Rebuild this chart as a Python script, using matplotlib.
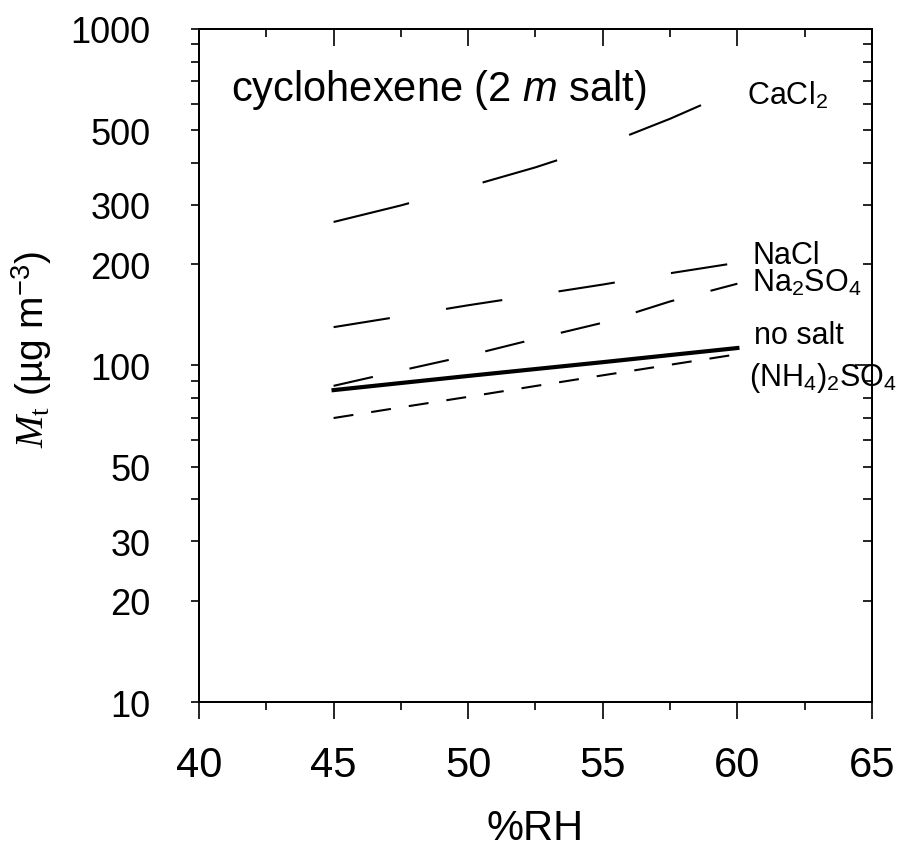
import numpy as np
import matplotlib
matplotlib.use("Agg")
import matplotlib.pyplot as plt
from matplotlib.ticker import FixedLocator, NullFormatter, FixedFormatter

plt.rcParams['font.family'] = ['Liberation Sans', 'DejaVu Sans']
plt.rcParams['mathtext.fontset'] = 'custom'
plt.rcParams['mathtext.rm'] = 'Liberation Sans'
plt.rcParams['mathtext.it'] = 'Liberation Serif:italic'
plt.rcParams['mathtext.sf'] = 'Liberation Sans:italic'
plt.rcParams['mathtext.cal'] = 'Liberation Serif'
plt.rcParams['lines.scale_dashes'] = False

# %RH sample points and total organic mass (ug m-3)
rh = [45, 47.5, 50, 52.5, 55, 57.5, 60]
cacl2 = [267, 299, 340, 388, 451, 541, 662]
nacl = [130, 140, 151, 162, 174, 188, 202]
na2so4 = [87, 96.6, 107, 120, 134, 155, 175]
no_salt = [84.5, 88.7, 93.1, 97.6, 102.3, 107.4, 112.7]
nh4_2so4 = [69.8, 75.1, 80.7, 86.9, 93.5, 100.5, 108]

labels = ['CaCl$_2$', 'NaCl', 'Na$_2$SO$_4$', 'no salt', '(NH$_4$)$_2$SO$_4$']
label_pos = [(0.814, 0.890), (0.822, 0.652), (0.822, 0.611), (0.825, 0.533), (0.817, 0.471)]

y_major = [10, 100, 1000]
y_labeled = [10, 20, 30, 50, 100, 200, 300, 500, 1000]
y_minor = [20, 30, 40, 50, 60, 70, 80, 90, 200, 300, 400, 500, 600, 700, 800, 900]

fig = plt.figure(figsize=(8.98, 8.54), dpi=100)
ax = fig.add_axes([0.2216, 0.1768, 0.7494, 0.7881])

ax.plot(rh, cacl2, color='black', lw=1.5, dashes=(56, 55))
ax.plot(rh, nacl, color='black', lw=1.5, dashes=(41, 41))
ax.plot(rh, na2so4, color='black', lw=1.5, dashes=(29, 27))
ax.plot(rh, no_salt, color='black', lw=3.0)
ax.plot(rh, nh4_2so4, color='black', lw=1.5, dashes=(14.4, 13))

ax.set_yscale('log')
ax.set_xlim(40, 65)
ax.set_ylim(10, 1000)

# left axis: labeled ticks as majors, decade ticks drawn longer
ax.yaxis.set_major_locator(FixedLocator(y_labeled))
ax.yaxis.set_major_formatter(FixedFormatter([str(v) for v in y_labeled]))
ax.yaxis.set_minor_locator(FixedLocator([40, 60, 70, 80, 90, 400, 600, 700, 800, 900]))
ax.yaxis.set_minor_formatter(NullFormatter())
ax.tick_params(axis='y', which='both', direction='out', length=5.8, width=1.2,
               labelsize=26, pad=29, right=False)
for t in ax.yaxis.get_major_ticks():
    if t.get_loc() in y_major:
        t.tick1line.set_markersize(12.2)

ax.set_xticks(np.arange(40, 66, 5))
ax.set_xticks(np.arange(42.5, 65, 5), minor=True)
ax.tick_params(axis='x', which='major', direction='out', length=12.2, width=1.2,
               labelsize=30, pad=19, top=False)
ax.tick_params(axis='x', which='minor', direction='out', length=5.8, width=1.2, top=False)

for s in ax.spines.values():
    s.set_linewidth(1.4)

# right and top: inward ticks
ax_r = ax.twinx()
ax_r.set_yscale('log')
ax_r.set_ylim(10, 1000)
ax_r.yaxis.set_major_locator(FixedLocator(y_major))
ax_r.yaxis.set_minor_locator(FixedLocator(y_minor))
ax_r.yaxis.set_major_formatter(NullFormatter())
ax_r.yaxis.set_minor_formatter(NullFormatter())
ax_r.tick_params(axis='y', which='major', direction='in', length=12.2, width=1.2)
ax_r.tick_params(axis='y', which='minor', direction='in', length=6.5, width=1.2)

ax_t = ax.twiny()
ax_t.set_xlim(40, 65)
ax_t.set_xticks(np.arange(40, 66, 5))
ax_t.set_xticks(np.arange(42.5, 65, 5), minor=True)
ax_t.set_xticklabels([])
ax_t.tick_params(axis='x', which='major', direction='in', length=12.2, width=1.2)
ax_t.tick_params(axis='x', which='minor', direction='in', length=5.8, width=1.2)
for a in (ax_r, ax_t):
    for s in a.spines.values():
        s.set_linewidth(1.4)

ax.set_xlabel('%RH', fontsize=30)
ax.xaxis.set_label_coords(0.5, -0.158)
ax.set_ylabel(r'$M_{\mathcal{t}}$ (µg m$^{-3}$)', fontsize=28)
ax.yaxis.set_label_coords(-0.215, 0.526)

ax.text(0.048, 0.894, r'cyclohexene (2 $\mathsf{m}$ salt)', transform=ax.transAxes,
        fontsize=30, va='baseline', ha='left')

for lab, (lx, ly) in zip(labels, label_pos):
    ax.text(lx, ly, lab, transform=ax.transAxes, fontsize=22, va='baseline',
            ha='left', clip_on=False)

fig.savefig('out.png', dpi=100)
